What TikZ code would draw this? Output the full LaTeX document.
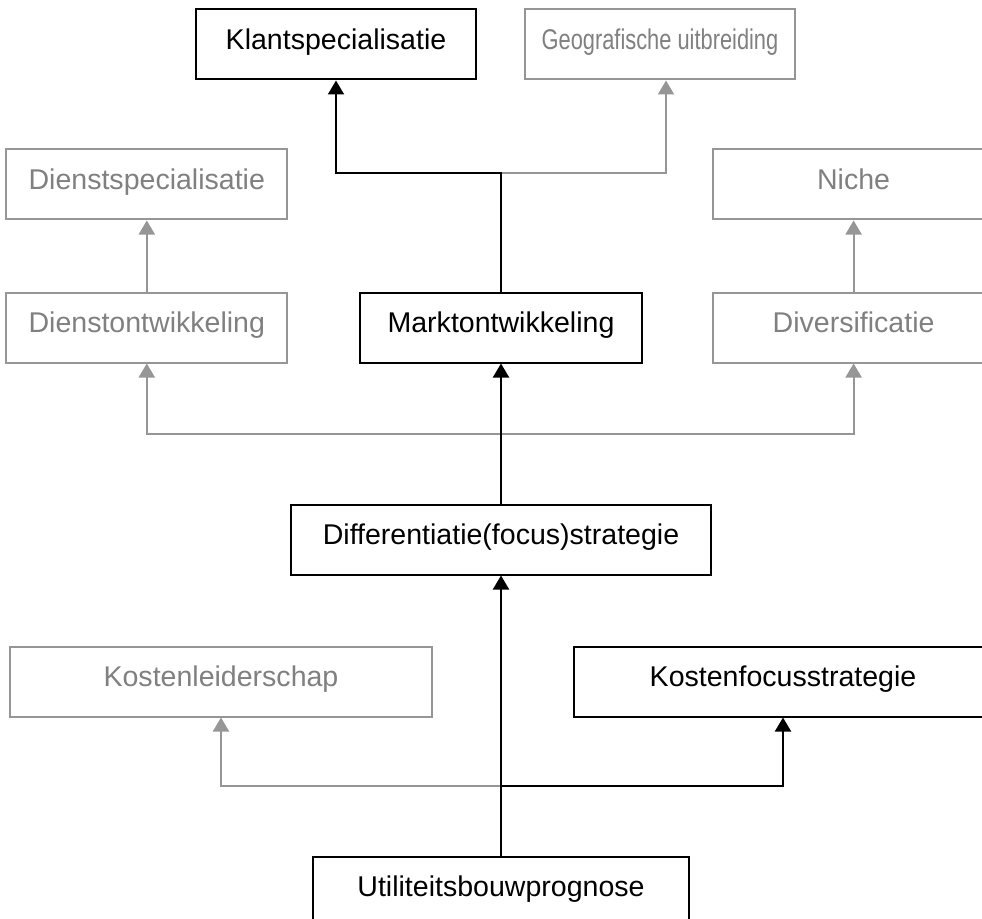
\documentclass[tikz,border=0pt]{standalone}
\usepackage{fontspec}
\setmainfont{Liberation Sans}
\usepackage{tikz}
\usetikzlibrary{arrows.meta, positioning, calc}
\definecolor{fadeline}{RGB}{150,150,150}
\definecolor{fadetext}{RGB}{128,128,128}
\tikzstyle{block} = [rectangle, minimum height=1.75cm, text height=1.0cm, text depth=0.75cm, inner ysep=0pt, draw=black, line width=0.05cm, fill=white, font=\fontsize{20.3}{24}\selectfont]
\tikzstyle{faded} = [draw=fadeline, text=fadetext]
\tikzstyle{arrow} = [line width=0.05cm, -{Triangle[length=0.35cm, width=0.4cm]}]
\tikzstyle{fadearrow} = [arrow, fadeline]

\begin{document}
\begin{tikzpicture}[node distance=1.75cm]
  \useasboundingbox (-12.525,-14.7625) rectangle (12.025,8.1875);
  \clip (-12.525,-14.7625) rectangle (12.025,8.1875);

  \node[block, minimum width=7.03cm] (markt) {Marktontwikkeling};
  \node[block, faded, minimum width=7.03cm, left=1.775cm of markt] (dontw) {Dienstontwikkeling};
  \node[block, faded, minimum width=7.05cm, right=1.725cm of markt] (divers) {Diversificatie};
  \node[block, faded, minimum width=7.03cm, above=1.775cm of dontw] (dspec) {Dienstspecialisatie};
  \node[block, faded, minimum width=7.05cm, above=1.775cm of divers] (niche) {Niche};
  \node[block, minimum width=7cm, above=5.275cm of markt, xshift=-4.125cm] (klant) {Klantspecialisatie};
  \node[block, faded, minimum width=6.75cm, inner xsep=0pt, right=1.175cm of klant] (geo) {\scalebox{0.765}[1]{Geografische uitbreiding}};
  \node[block, minimum width=10.48cm, below=3.5cm of markt] (diff) {Differentiatie(focus)strategie};
  \node[block, faded, minimum width=10.55cm, below=of diff, xshift=-7cm] (kleider) {Kostenleiderschap};
  \node[block, minimum width=10.45cm, right=3.5cm of kleider] (kfocus) {Kostenfocusstrategie};
  \node[block, minimum width=9.38cm, below=7cm of diff] (util) {Utiliteitsbouwprognose};

  % split points
  \coordinate[above=2.95cm of markt.north] (jtop);
  \coordinate[above=of diff.north] (jmid);
  \coordinate[above=of util.north] (jbot);

  \draw[fadearrow] (jtop) -| ([xshift=0.15cm]geo.south);
  \draw[arrow] (markt) -- (jtop) -| (klant);
  \draw[fadearrow] (dontw) -- (dspec);
  \draw[fadearrow] (divers) -- (niche);
  \draw[fadearrow] (jmid) -| (dontw);
  \draw[fadearrow] (jmid) -| (divers);
  \draw[arrow] (diff) -- (markt);
  \draw[fadearrow] (jbot) -| (kleider);
  \draw[arrow] (jbot) -| (kfocus);
  \draw[arrow] (util) -- (diff);
\end{tikzpicture}
\end{document}
